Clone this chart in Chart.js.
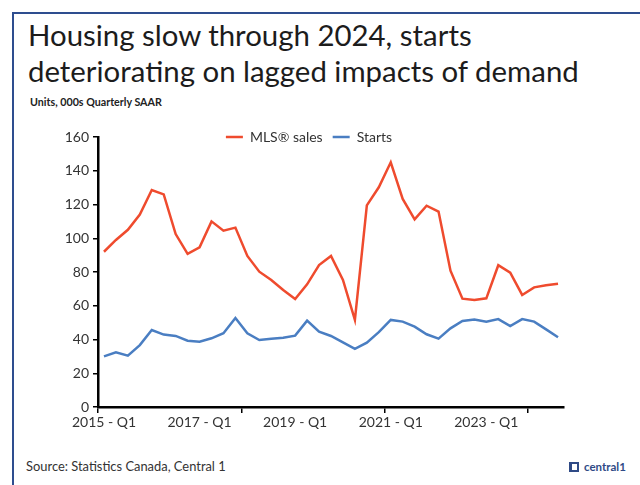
<!DOCTYPE html>
<html>
<head>
<meta charset="utf-8">
<script src="https://cdn.jsdelivr.net/npm/chart.js@4"></script>
<style>
  html, body { margin: 0; padding: 0; background: #fff; }
  #page { position: relative; width: 640px; height: 485px; overflow: hidden; font-family: Lato, sans-serif; }
  #frame { position: absolute; left: 12px; top: 12px; width: 640px; height: 485px;
           border-left: 2px solid #2e4d8f; border-top: 2px solid #2e4d8f; }
  #title { position: absolute; left: 28px; top: 17px; font-size: 29.4px; line-height: 36px; color: #1c1c1c; white-space: nowrap; }
  #units { position: absolute; left: 30px; top: 96px; font-size: 10.7px; line-height: 12px; font-weight: bold; color: #222; }
  #wrap { position: absolute; left: 0; top: 103px; width: 640px; height: 334px; }
  #source { position: absolute; left: 26px; top: 459px; font-size: 12.9px; line-height: 15px; color: #333; }
  #logo { position: absolute; left: 569px; top: 460px; color: #2f4a86; font-weight: bold; font-size: 11.5px; line-height: 14px; }
  #logo .mark { display: inline-block; width: 5px; height: 6px; border: 2px solid #2f4a86; border-left-width: 3px; vertical-align: -1px; margin-right: 5px; }
</style>
</head>
<body>
<div id="page">
  <div id="frame"></div>
  <div id="title">Housing slow through 2024, starts<br>deteriorating on lagged impacts of demand</div>
  <div id="units">Units, 000s Quarterly SAAR</div>
  <div id="wrap"><canvas id="housingChart"></canvas></div>
  <div id="source">Source: Statistics Canada, Central 1</div>
  <div id="logo"><span class="mark"></span>central1</div>
</div>
<script>
const quarters = [
  '2015 - Q1', '2015 - Q2', '2015 - Q3', '2015 - Q4',
  '2016 - Q1', '2016 - Q2', '2016 - Q3', '2016 - Q4',
  '2017 - Q1', '2017 - Q2', '2017 - Q3', '2017 - Q4',
  '2018 - Q1', '2018 - Q2', '2018 - Q3', '2018 - Q4',
  '2019 - Q1', '2019 - Q2', '2019 - Q3', '2019 - Q4',
  '2020 - Q1', '2020 - Q2', '2020 - Q3', '2020 - Q4',
  '2021 - Q1', '2021 - Q2', '2021 - Q3', '2021 - Q4',
  '2022 - Q1', '2022 - Q2', '2022 - Q3', '2022 - Q4',
  '2023 - Q1', '2023 - Q2', '2023 - Q3', '2023 - Q4',
  '2024 - Q1', '2024 - Q2', '2024 - Q3'
];

// thousands of units, seasonally adjusted annual rate
const mlsSales = [
  92, 99, 105, 114, 128.6, 126, 102.5, 90.7,
  94.6, 110, 104.5, 106.3, 89.5, 80.2, 75.3, 69.3,
  64, 72.7, 84.1, 89.5, 75.3, 51.6, 119.5, 130.2,
  145, 123.3, 111.2, 119.3, 115.8, 80.8, 64.2, 63.4,
  64.4, 84, 79.6, 66.4, 70.9, 72.1, 73.1
];

const starts = [
  30, 32.4, 30.4, 36.7, 45.6, 42.9, 42.1, 39.3,
  38.7, 40.7, 43.7, 52.7, 43.7, 39.7, 40.5, 41.1,
  42.3, 51.2, 44.6, 42.1, 38.3, 34.4, 38.1, 44.4,
  51.6, 50.6, 47.6, 43.1, 40.5, 46.6, 51, 51.8,
  50.6, 52.1, 48, 52.1, 50.6, 46, 41.3
];

const yTicks = [0, 20, 40, 60, 80, 100, 120, 140, 160];

const RED = '#ef4b2e';
const BLUE = '#4a7ec2';
const AXIS_FONT = { family: 'Lato', size: 14 };

// legend sits across the top edge of the plot, not above it
const legendInPlot = {
  id: 'legendInPlot',
  afterLayout(chart) {
    const lg = chart.legend;
    const dy = chart.chartArea.top - (lg.top + lg.height / 2);
    const dx = 27;
    lg.top += dy; lg.bottom += dy;
    lg.left += dx; lg.right += dx;
  }
};

new Chart(document.getElementById('housingChart'), {
  type: 'line',
  data: {
    labels: quarters,
    datasets: [
      {
        label: 'MLS® sales',
        data: mlsSales,
        borderColor: RED,
        backgroundColor: RED,
        borderWidth: 2.5,
        pointRadius: 0,
        tension: 0
      },
      {
        label: 'Starts',
        data: starts,
        borderColor: BLUE,
        backgroundColor: BLUE,
        borderWidth: 2.5,
        pointRadius: 0,
        tension: 0
      }
    ]
  },
  options: {
    responsive: true,
    maintainAspectRatio: false,
    animation: false,
    layout: { padding: { top: 0, right: 76, bottom: 0, left: 0 } },
    plugins: {
      legend: {
        position: 'top',
        labels: {
          usePointStyle: true,
          pointStyle: 'line',
          pointStyleWidth: 17,
          padding: 10,
          color: '#333',
          font: AXIS_FONT
        }
      },
      tooltip: { enabled: false }
    },
    scales: {
      x: {
        offset: true,
        afterFit: scale => { scale.height = 30; },
        grid: {
          offset: true,
          drawOnChartArea: false,
          tickLength: 6,
          lineWidth: 1.5,
          color: ctx => ctx.index % 12 === 0 ? '#000' : 'rgba(0,0,0,0)'
        },
        border: { color: '#000', width: 2.5 },
        ticks: {
          autoSkip: false,
          maxRotation: 0,
          padding: 1,
          color: '#333',
          font: AXIS_FONT,
          callback: (value, i) => i % 8 === 0 ? quarters[i] : ''
        }
      },
      y: {
        min: yTicks[0],
        max: yTicks[yTicks.length - 1],
        afterFit: scale => { scale.width = 98; },
        afterBuildTicks: scale => { scale.ticks = yTicks.map(v => ({ value: v })); },
        grid: { drawOnChartArea: false, tickLength: 5, lineWidth: 1.5, color: '#000' },
        border: { color: '#000', width: 2.5 },
        ticks: { padding: 4, color: '#333', font: AXIS_FONT }
      }
    }
  },
  plugins: [legendInPlot]
});
</script>
</body>
</html>
